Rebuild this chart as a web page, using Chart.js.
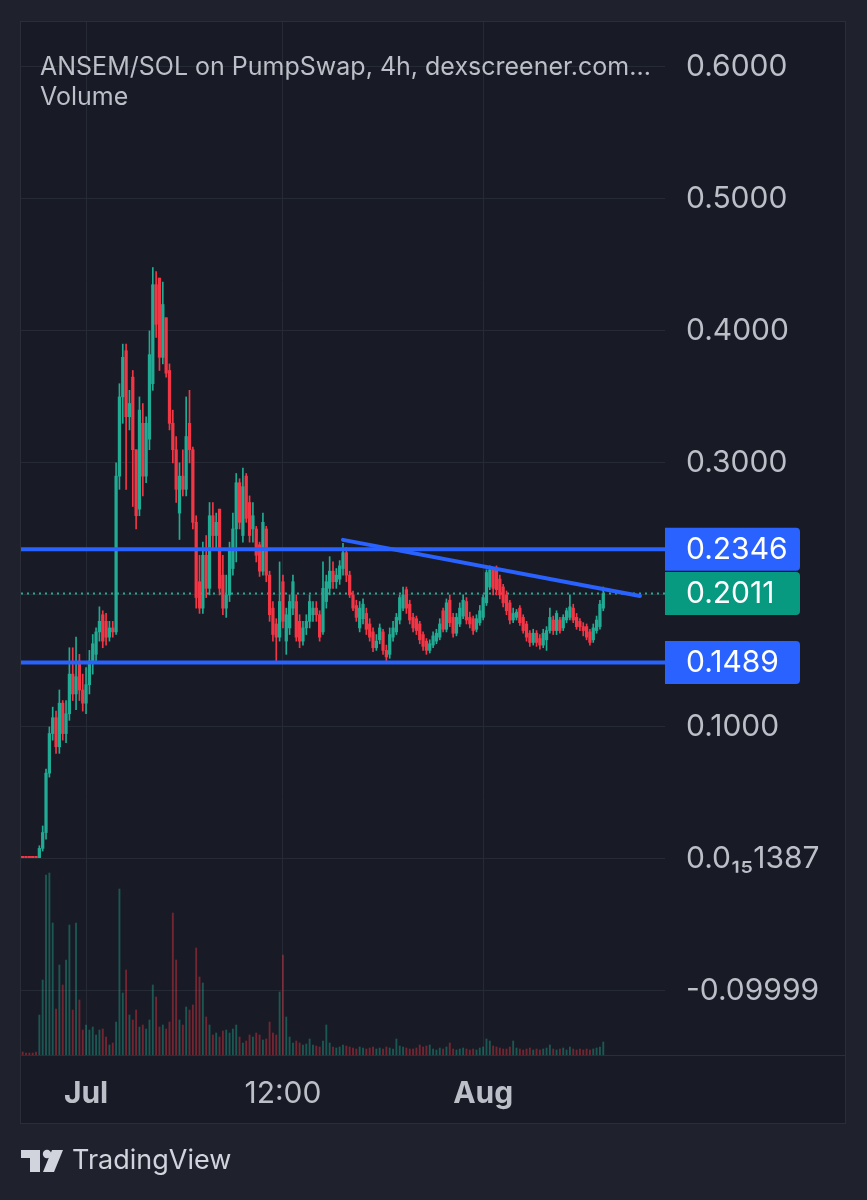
<!DOCTYPE html>
<html>
<head>
<meta charset="utf-8">
<title>ANSEM/SOL 4h</title>
<script src="https://cdn.jsdelivr.net/npm/chart.js@4.4.1/dist/chart.umd.min.js"></script>
<style>
  html, body { margin: 0; padding: 0; background: #1f222d; }
  #wrap { width: 867px; height: 1200px; position: relative; }
</style>
</head>
<body>
<div id="wrap"><canvas id="chart"></canvas></div>
<script>
// 4h candles
const opens = [
  0.002, 0.002, 0.002, 0.002, 0.002, 0.001, 0.008, 0.020, 0.065, 0.095,
  0.107, 0.085, 0.118, 0.095, 0.110, 0.140, 0.125, 0.150, 0.128, 0.118,
  0.132, 0.150, 0.155, 0.172, 0.185, 0.180, 0.168, 0.175, 0.172, 0.290,
  0.350, 0.385, 0.335, 0.365, 0.310, 0.265, 0.330, 0.290, 0.318, 0.360,
  0.435, 0.440, 0.380, 0.410, 0.370, 0.330, 0.310, 0.262, 0.290, 0.280,
  0.330, 0.310, 0.255, 0.210, 0.190, 0.230, 0.205, 0.260, 0.245, 0.265,
  0.215, 0.190, 0.200, 0.220, 0.250, 0.285, 0.245, 0.290, 0.270, 0.250,
  0.250, 0.238, 0.218, 0.250, 0.215, 0.190, 0.178, 0.168, 0.210, 0.165,
  0.175, 0.190, 0.195, 0.180, 0.165, 0.175, 0.180, 0.185, 0.190, 0.185,
  0.172, 0.195, 0.205, 0.218, 0.210, 0.212, 0.220, 0.232, 0.215, 0.200,
  0.192, 0.175, 0.182, 0.186, 0.178, 0.172, 0.160, 0.166, 0.172, 0.158,
  0.155, 0.168, 0.172, 0.181, 0.190, 0.204, 0.193, 0.183, 0.182, 0.178,
  0.170, 0.165, 0.158, 0.162, 0.165, 0.168, 0.188, 0.174, 0.196, 0.183,
  0.171, 0.178, 0.184, 0.195, 0.183, 0.182, 0.174, 0.179, 0.183, 0.194,
  0.206, 0.219, 0.219, 0.212, 0.206, 0.200, 0.194, 0.181, 0.183, 0.190,
  0.183, 0.178, 0.171, 0.164, 0.171, 0.167, 0.162, 0.166, 0.173, 0.181,
  0.173, 0.181, 0.175, 0.181, 0.183, 0.190, 0.183, 0.180, 0.176, 0.176,
  0.172, 0.166, 0.173, 0.176, 0.190
];
const highs = [
  0.002, 0.002, 0.002, 0.002, 0.002, 0.010, 0.025, 0.068, 0.100, 0.115,
  0.112, 0.128, 0.120, 0.120, 0.160, 0.160, 0.168, 0.155, 0.140, 0.145,
  0.158, 0.170, 0.175, 0.191, 0.188, 0.186, 0.180, 0.180, 0.300, 0.360,
  0.390, 0.390, 0.355, 0.370, 0.310, 0.350, 0.345, 0.335, 0.400, 0.448,
  0.445, 0.440, 0.437, 0.410, 0.375, 0.340, 0.320, 0.300, 0.310, 0.350,
  0.355, 0.312, 0.260, 0.230, 0.240, 0.245, 0.270, 0.270, 0.262, 0.265,
  0.230, 0.215, 0.240, 0.262, 0.292, 0.288, 0.296, 0.292, 0.275, 0.270,
  0.252, 0.240, 0.262, 0.252, 0.218, 0.195, 0.182, 0.225, 0.215, 0.190,
  0.200, 0.215, 0.200, 0.185, 0.180, 0.185, 0.200, 0.195, 0.195, 0.188,
  0.225, 0.215, 0.229, 0.225, 0.220, 0.226, 0.239, 0.236, 0.218, 0.203,
  0.196, 0.195, 0.197, 0.190, 0.182, 0.175, 0.170, 0.178, 0.174, 0.162,
  0.175, 0.180, 0.186, 0.200, 0.206, 0.206, 0.196, 0.186, 0.184, 0.180,
  0.172, 0.167, 0.166, 0.172, 0.174, 0.182, 0.190, 0.197, 0.200, 0.186,
  0.186, 0.194, 0.200, 0.198, 0.187, 0.184, 0.185, 0.192, 0.200, 0.219,
  0.222, 0.221, 0.222, 0.215, 0.208, 0.203, 0.196, 0.190, 0.189, 0.192,
  0.185, 0.180, 0.173, 0.174, 0.173, 0.170, 0.174, 0.176, 0.190, 0.184,
  0.188, 0.183, 0.185, 0.190, 0.200, 0.193, 0.186, 0.182, 0.179, 0.178,
  0.174, 0.178, 0.184, 0.196, 0.206
];
const lows = [
  0.001, 0.001, 0.001, 0.001, 0.001, 0.001, 0.006, 0.015, 0.062, 0.090,
  0.080, 0.080, 0.090, 0.088, 0.105, 0.120, 0.113, 0.120, 0.112, 0.110,
  0.125, 0.140, 0.150, 0.165, 0.160, 0.162, 0.165, 0.168, 0.170, 0.280,
  0.330, 0.280, 0.325, 0.267, 0.250, 0.260, 0.275, 0.285, 0.310, 0.355,
  0.395, 0.370, 0.375, 0.365, 0.325, 0.300, 0.270, 0.242, 0.275, 0.275,
  0.300, 0.250, 0.190, 0.186, 0.186, 0.198, 0.200, 0.235, 0.235, 0.200,
  0.185, 0.183, 0.195, 0.215, 0.225, 0.250, 0.240, 0.255, 0.240, 0.240,
  0.225, 0.214, 0.215, 0.210, 0.180, 0.165, 0.150, 0.165, 0.175, 0.155,
  0.170, 0.185, 0.165, 0.160, 0.162, 0.170, 0.175, 0.180, 0.180, 0.165,
  0.170, 0.190, 0.200, 0.205, 0.205, 0.208, 0.215, 0.210, 0.198, 0.188,
  0.180, 0.172, 0.178, 0.170, 0.165, 0.157, 0.158, 0.163, 0.155, 0.150,
  0.152, 0.165, 0.170, 0.178, 0.188, 0.186, 0.178, 0.172, 0.170, 0.163,
  0.158, 0.155, 0.156, 0.160, 0.163, 0.166, 0.172, 0.172, 0.176, 0.168,
  0.169, 0.176, 0.182, 0.178, 0.175, 0.170, 0.172, 0.177, 0.181, 0.192,
  0.204, 0.200, 0.200, 0.197, 0.191, 0.185, 0.178, 0.179, 0.181, 0.177,
  0.171, 0.165, 0.161, 0.162, 0.161, 0.159, 0.160, 0.158, 0.171, 0.170,
  0.170, 0.171, 0.173, 0.179, 0.181, 0.179, 0.174, 0.173, 0.169, 0.166,
  0.162, 0.164, 0.171, 0.174, 0.188
];
const closes = [
  0.001, 0.001, 0.001, 0.001, 0.001, 0.008, 0.020, 0.065, 0.095, 0.107,
  0.085, 0.118, 0.095, 0.110, 0.140, 0.125, 0.138, 0.128, 0.118, 0.132,
  0.150, 0.163, 0.172, 0.180, 0.165, 0.168, 0.175, 0.172, 0.290, 0.350,
  0.380, 0.335, 0.345, 0.310, 0.260, 0.340, 0.290, 0.330, 0.382, 0.435,
  0.405, 0.380, 0.420, 0.368, 0.330, 0.310, 0.280, 0.290, 0.280, 0.320,
  0.310, 0.255, 0.198, 0.190, 0.230, 0.205, 0.260, 0.245, 0.255, 0.205,
  0.190, 0.200, 0.235, 0.250, 0.285, 0.255, 0.282, 0.258, 0.245, 0.260,
  0.230, 0.218, 0.255, 0.215, 0.185, 0.170, 0.168, 0.195, 0.180, 0.185,
  0.195, 0.210, 0.168, 0.165, 0.175, 0.180, 0.195, 0.190, 0.185, 0.168,
  0.205, 0.210, 0.218, 0.210, 0.215, 0.222, 0.232, 0.215, 0.200, 0.190,
  0.183, 0.190, 0.193, 0.174, 0.168, 0.160, 0.165, 0.175, 0.158, 0.153,
  0.170, 0.175, 0.183, 0.198, 0.200, 0.190, 0.181, 0.175, 0.173, 0.166,
  0.161, 0.158, 0.163, 0.169, 0.171, 0.178, 0.174, 0.194, 0.179, 0.171,
  0.183, 0.190, 0.196, 0.181, 0.178, 0.173, 0.182, 0.188, 0.198, 0.217,
  0.219, 0.205, 0.204, 0.200, 0.194, 0.188, 0.181, 0.186, 0.187, 0.179,
  0.173, 0.168, 0.164, 0.171, 0.164, 0.162, 0.171, 0.173, 0.183, 0.173,
  0.186, 0.173, 0.183, 0.188, 0.191, 0.181, 0.176, 0.176, 0.173, 0.168,
  0.164, 0.175, 0.181, 0.193, 0.2011
];
const volumes = [
  3, 2, 2, 2, 3, 40, 75, 180, 182, 132,
  46, 90, 70, 95, 130, 45, 132, 55, 25, 30,
  25, 28, 20, 25, 26, 18, 10, 12, 33, 166,
  62, 85, 40, 35, 45, 28, 30, 26, 35, 70,
  58, 28, 30, 26, 33, 142, 95, 35, 30, 48,
  45, 50, 107, 78, 72, 38, 30, 20, 22, 18,
  24, 25, 22, 26, 30, 18, 12, 14, 20, 18,
  22, 20, 15, 16, 33, 22, 20, 63, 100, 38,
  18, 12, 14, 12, 10, 11, 16, 10, 9, 8,
  14, 30, 12, 8, 7, 8, 10, 9, 8, 7,
  6, 8, 7, 6, 7, 8, 6, 7, 6, 8,
  7, 6, 16, 9, 8, 7, 6, 6, 7, 10,
  8, 9, 10, 6, 5, 7, 6, 8, 12, 6,
  5, 6, 7, 6, 5, 6, 5, 7, 8, 16,
  14, 9, 8, 7, 6, 6, 8, 14, 7, 6,
  5, 6, 7, 5, 6, 5, 6, 7, 10, 6,
  5, 6, 7, 5, 8, 6, 5, 6, 5, 6,
  5, 6, 7, 8, 13
];

// slots on the time axis (candles plus empty space on the right)
const slotCount = 193;
const slots = Array.from({ length: slotCount }, (_, i) => i);
const timeLabels = { 19: 'Jul', 78: '12:00', 138: 'Aug' };

// price axis
const priceTicks = [-0.09999, 1.387e-16, 0.1, 0.2, 0.3, 0.4, 0.5, 0.6];
const priceTickLabels = ['-0.09999', '0.0\u2081\u20851387', '0.1000', '', '0.3000', '0.4000', '0.5000', '0.6000'];

// drawn levels
const resistance = 0.2346;
const support = 0.1489;
const lastPrice = 0.2011;
const trendLine = [{ x: 96, y: 0.2417 }, { x: 185, y: 0.1992 }];

const UP = '#22ab94', DOWN = '#f23645', BLUE = '#2962ff';
const FONT = 'Inter, "Noto Sans", sans-serif';

const isUp = closes.map((c, i) => c >= opens[i]);

const panePlugin = {
  id: 'pane',
  beforeDraw(chart) {
    const { ctx, chartArea: a, scales: { x, y } } = chart;
    ctx.save();
    ctx.fillStyle = '#1f222d';
    ctx.fillRect(0, 0, chart.width, chart.height);
    ctx.fillStyle = '#181b25';
    ctx.fillRect(a.left, a.top, y.right - a.left, x.bottom - a.top);
    ctx.strokeStyle = '#2a2e39';
    ctx.lineWidth = 1;
    ctx.strokeRect(a.left - 0.5, a.top - 0.5, y.right - a.left + 1, x.bottom - a.top + 1);
    ctx.beginPath();
    ctx.moveTo(a.left, a.bottom + 0.5);
    ctx.lineTo(y.right, a.bottom + 0.5);
    ctx.stroke();
    ctx.restore();
  },
  beforeDatasetsDraw(chart) {
    const { ctx, chartArea: a, scales: { y } } = chart;
    const py = Math.round(y.getPixelForValue(lastPrice)) + 0.5;
    ctx.save();
    ctx.strokeStyle = UP;
    ctx.lineWidth = 2;
    ctx.setLineDash([2, 4]);
    ctx.beginPath();
    ctx.moveTo(a.left, py);
    ctx.lineTo(a.right, py);
    ctx.stroke();
    ctx.restore();
  },
  afterDatasetsDraw(chart) {
    const { ctx, chartArea: a, scales: { y } } = chart;
    ctx.save();
    ctx.strokeStyle = BLUE;
    ctx.lineWidth = 4;
    [resistance, support].forEach(v => {
      const py = y.getPixelForValue(v);
      ctx.beginPath();
      ctx.moveTo(a.left, py);
      ctx.lineTo(a.right, py);
      ctx.stroke();
    });
    // price tags on the axis
    const tags = [[resistance, BLUE], [lastPrice, '#089981'], [support, BLUE]];
    ctx.font = '30px ' + FONT;
    ctx.textBaseline = 'middle';
    tags.forEach(([v, col]) => {
      const py = y.getPixelForValue(v);
      const x0 = a.right, w = 135, h = 43, r = 4;
      ctx.fillStyle = col;
      ctx.beginPath();
      ctx.moveTo(x0, py - h / 2);
      ctx.lineTo(x0 + w - r, py - h / 2);
      ctx.arcTo(x0 + w, py - h / 2, x0 + w, py - h / 2 + r, r);
      ctx.lineTo(x0 + w, py + h / 2 - r);
      ctx.arcTo(x0 + w, py + h / 2, x0 + w - r, py + h / 2, r);
      ctx.lineTo(x0, py + h / 2);
      ctx.closePath();
      ctx.fill();
      ctx.fillStyle = '#ffffff';
      ctx.textAlign = 'left';
      ctx.fillText(v.toFixed(4), x0 + 21, py + 1);
    });
    ctx.restore();
  },
  afterDraw(chart) {
    const { ctx, chartArea: a } = chart;
    ctx.save();
    ctx.fillStyle = '#bcbfc7';
    ctx.textBaseline = 'middle';
    ctx.textAlign = 'left';
    ctx.font = '25px ' + FONT;
    ctx.fillText('ANSEM/SOL on PumpSwap, 4h, dexscreener.com...', a.left + 19, 67);
    ctx.fillText('Volume', a.left + 19, 97);
    // TradingView mark
    ctx.fillStyle = '#d1d4dc';
    ctx.fillRect(21, 1150, 19, 8);
    ctx.fillRect(30, 1150, 10, 22);
    ctx.beginPath();
    ctx.arc(47, 1154, 4.2, 0, Math.PI * 2);
    ctx.fill();
    ctx.beginPath();
    ctx.moveTo(52, 1150);
    ctx.lineTo(63, 1150);
    ctx.lineTo(54, 1172);
    ctx.lineTo(43, 1172);
    ctx.closePath();
    ctx.fill();
    ctx.font = '27px ' + FONT;
    ctx.fillText('TradingView', 72, 1161);
    ctx.restore();
  }
};

window.addEventListener('DOMContentLoaded', () => {
  new Chart(document.getElementById('chart'), {
    type: 'bar',
    data: {
      labels: slots,
      datasets: [
        {
          label: 'Trend',
          type: 'line',
          data: trendLine,
          borderColor: BLUE,
          borderWidth: 4,
          borderCapStyle: 'round',
          pointRadius: 0,
          yAxisID: 'y',
          order: 1
        },
        {
          label: 'Body',
          data: opens.map((o, i) => [o, closes[i]]),
          backgroundColor: isUp.map(u => u ? UP : DOWN),
          barThickness: 2.6,
          minBarLength: 1,
          grouped: false,
          yAxisID: 'y',
          order: 2
        },
        {
          label: 'Wick',
          data: lows.map((l, i) => [l, highs[i]]),
          backgroundColor: isUp.map(u => u ? UP : DOWN),
          barThickness: 1,
          grouped: false,
          yAxisID: 'y',
          order: 3
        },
        {
          label: 'Volume',
          data: volumes,
          backgroundColor: isUp.map(u => u ? 'rgba(34,171,148,0.42)' : 'rgba(242,54,69,0.42)'),
          barThickness: 1.2,
          grouped: false,
          yAxisID: 'yv',
          order: 4
        }
      ]
    },
    options: {
      responsive: true,
      maintainAspectRatio: false,
      animation: false,
      layout: { padding: { left: 21, right: 22, top: 22, bottom: 77 } },
      plugins: { legend: { display: false }, tooltip: { enabled: false } },
      scales: {
        x: {
          offset: true,
          grid: { color: '#262a35', offset: false, drawTicks: false },
          border: { display: false },
          afterFit(scale) {
            scale.height = 68;
            scale.paddingLeft = 0;
            scale.paddingRight = 0;
          },
          ticks: {
            autoSkip: false,
            maxRotation: 0,
            padding: 21,
            color: '#bcbfc7',
            font: ctx => ({ family: FONT, size: 30, weight: ctx.tick && ctx.tick.label === '12:00' ? 'normal' : 'bold' }),
            callback: (v, i) => timeLabels[i] ?? null
          }
        },
        y: {
          position: 'right',
          min: -0.1485,
          max: 0.634,
          grid: { color: '#262a35', drawTicks: false },
          border: { display: false },
          afterBuildTicks(scale) { scale.ticks = priceTicks.map(v => ({ value: v })); },
          afterFit(scale) {
            scale.width = 180;
            scale.paddingTop = 0;
            scale.paddingBottom = 0;
          },
          ticks: {
            padding: 21,
            color: '#bcbfc7',
            font: { family: FONT, size: 30 },
            callback: (v, i) => priceTickLabels[i]
          }
        },
        yv: {
          display: false,
          min: 0,
          max: 1033
        }
      }
    },
    plugins: [panePlugin]
  });
});
</script>
</body>
</html>
